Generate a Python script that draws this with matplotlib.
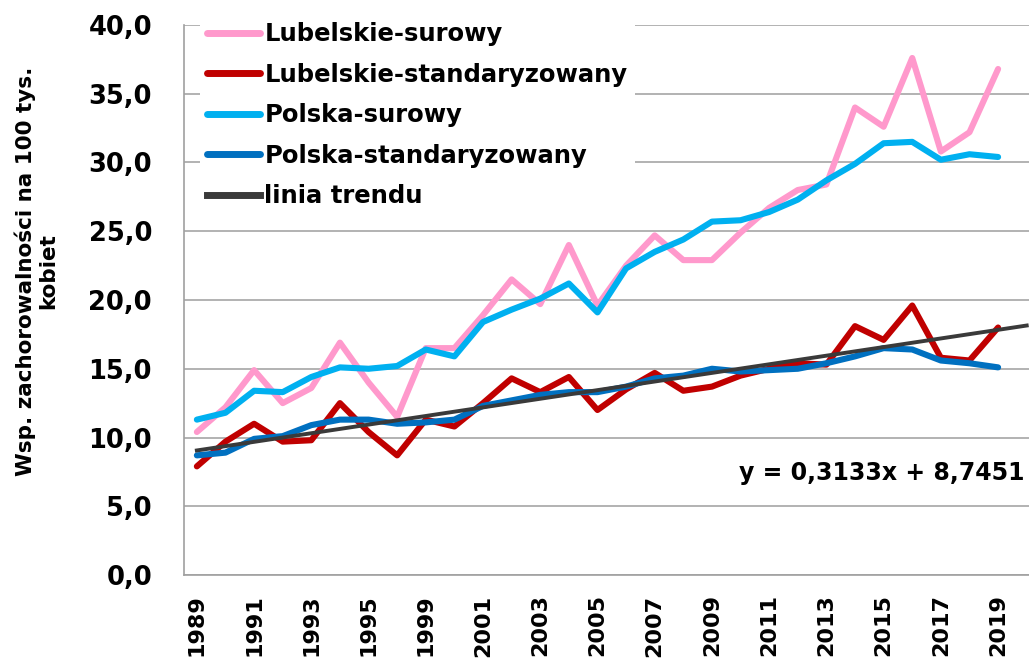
"""Incidence rates, Lubelskie vs Poland, crude and standardised, 1989-2019."""
import matplotlib

matplotlib.use("Agg")
import matplotlib.pyplot as plt
import numpy as np

YEARS = [1989, 1990, 1991, 1992, 1993, 1994, 1995, 1996,
         1999, 2000, 2001, 2002, 2003, 2004, 2005, 2006, 2007, 2008, 2009,
         2010, 2011, 2012, 2013, 2014, 2015, 2016, 2017, 2018, 2019]

LUB_CRUDE = [10.4, 12.2, 14.9, 12.5, 13.6, 16.9, 14.0, 11.5,
             16.5, 16.5, 18.9, 21.5, 19.7, 24.0, 19.6, 22.5, 24.7, 22.9, 22.9,
             24.9, 26.7, 28.0, 28.4, 34.0, 32.6, 37.6, 30.8, 32.2, 36.8]
LUB_STD = [7.9, 9.7, 11.0, 9.7, 9.8, 12.5, 10.4, 8.7,
           11.3, 10.8, 12.5, 14.3, 13.3, 14.4, 12.0, 13.5, 14.7, 13.4, 13.7,
           14.5, 15.0, 15.4, 15.3, 18.1, 17.1, 19.6, 15.8, 15.6, 18.0]
PL_CRUDE = [11.3, 11.8, 13.4, 13.3, 14.4, 15.1, 15.0, 15.2,
            16.4, 15.9, 18.4, 19.3, 20.1, 21.2, 19.1, 22.3, 23.5, 24.4, 25.7,
            25.8, 26.4, 27.3, 28.7, 29.9, 31.4, 31.5, 30.2, 30.6, 30.4]
PL_STD = [8.7, 8.9, 9.9, 10.1, 10.9, 11.3, 11.3, 11.0,
          11.1, 11.3, 12.3, 12.7, 13.1, 13.3, 13.3, 13.7, 14.3, 14.5, 15.0,
          14.8, 14.9, 15.0, 15.4, 15.9, 16.5, 16.4, 15.6, 15.4, 15.1]

# Excel linear trend shown on the chart (x = 1, 2, ... category index)
TREND_SLOPE = 0.3133
TREND_INTERCEPT = 8.7451

SERIES = [
    ("Lubelskie-surowy", LUB_CRUDE, "#FF99CC"),
    ("Lubelskie-standaryzowany", LUB_STD, "#C00000"),
    ("Polska-surowy", PL_CRUDE, "#00B0F0"),
    ("Polska-standaryzowany", PL_STD, "#0070C0"),
]


def comma_fmt(v, _pos=None):
    return f"{v:.1f}".replace(".", ",")


def main() -> None:
    plt.rcParams.update({"font.family": "DejaVu Sans", "font.weight": "bold"})
    fig = plt.figure(figsize=(10.29, 6.68), dpi=100)
    ax = fig.add_axes([0.1788, 0.1392, 0.8212, 0.8234])

    x = np.arange(len(YEARS))
    for label, vals, color in SERIES:
        ax.plot(x, vals, color=color, lw=4.4, label=label, solid_capstyle="round")

    xt = np.arange(1, len(YEARS) + 2)
    ax.plot(xt - 1, TREND_SLOPE * xt + TREND_INTERCEPT, color="#3A3A3A", lw=2.8,
            label="linia trendu")

    ax.set_ylim(0, 40)
    ax.set_xlim(-0.45, 29.08)
    ax.set_yticks(np.arange(0, 41, 5))
    ax.yaxis.set_major_formatter(plt.FuncFormatter(comma_fmt))
    ax.set_xticks(x[::2])
    ax.set_xticklabels([str(y) for y in YEARS[::2]], rotation=90)
    ax.tick_params(axis="y", labelsize=18.5, length=0, pad=23)
    ax.tick_params(axis="x", labelsize=16, length=0, pad=14)
    for lab in ax.get_xticklabels() + ax.get_yticklabels():
        lab.set_fontweight("bold")

    ax.grid(axis="y", color="#A6A6A6", lw=1.2)
    ax.set_axisbelow(True)
    for side in ("top", "right"):
        ax.spines[side].set_visible(False)
    for side in ("left", "bottom"):
        ax.spines[side].set_color("#A0A0A0")
        ax.spines[side].set_linewidth(1.2)

    ax.set_ylabel("Wsp. zachorowalności na 100 tys.\nkobiet", fontsize=15.5,
                  fontweight="bold", linespacing=1.15)
    ax.yaxis.set_label_coords(-0.149, 0.553)

    leg = ax.legend(loc="upper left", bbox_to_anchor=(200 / 1029, 0.9775),
                    bbox_transform=fig.transFigure, frameon=True,
                    facecolor="white", edgecolor="none", framealpha=1.0,
                    fancybox=False, fontsize=17.5, handlelength=2.15,
                    handletextpad=0.2, labelspacing=0.68, borderaxespad=0.0,
                    borderpad=0.3)
    for txt in leg.get_texts():
        txt.set_fontweight("bold")
    for line in leg.get_lines():
        line.set_linewidth(5.0)

    ax.text(0.995, 0.185, "y = 0,3133x + 8,7451", transform=ax.transAxes,
            ha="right", va="center", fontsize=17, fontweight="bold")

    fig.savefig("out.png", dpi=100)


if __name__ == "__main__":
    main()
